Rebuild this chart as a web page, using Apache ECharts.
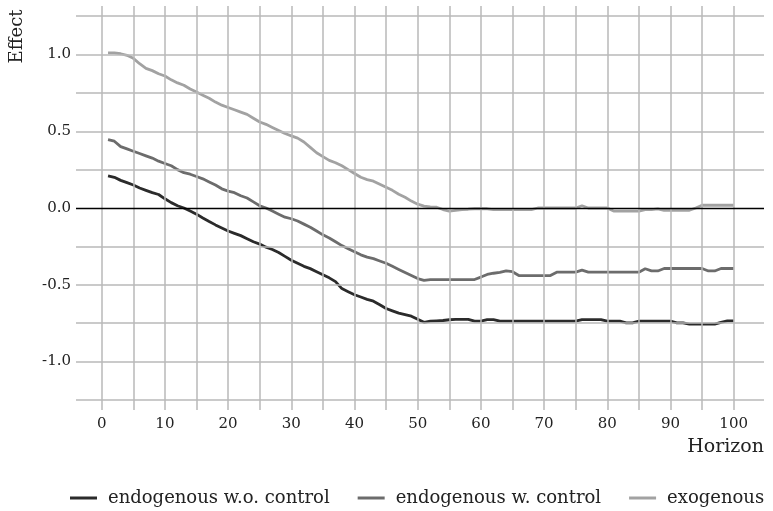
<!DOCTYPE html>
<html>
<head>
<meta charset="utf-8">
<script src="https://cdn.jsdelivr.net/npm/echarts@6/dist/echarts.min.js"></script>
<style>html,body{margin:0;padding:0;background:#fff;}#c{width:773px;height:511px;}</style>
</head>
<body>
<div id="c"></div>
<script>
const horizons = Array.from({length: 100}, (_, i) => i + 1);
const xTickLabels = [0, 10, 20, 30, 40, 50, 60, 70, 80, 90, 100];
const xGridValues = [0,5,10,15,20,25,30,35,40,45,50,55,60,65,70,75,80,85,90,95,100];
const yTickLabels = [-1.0, -0.5, 0.0, 0.5, 1.0];
const yGridValues = [-1.25,-1.0,-0.75,-0.5,-0.25,0.25,0.5,0.75,1.0,1.25];
const seriesNames = ['endogenous w.o. control', 'endogenous w. control', 'exogenous'];

const endoNoControl = [
 0.21,0.20,0.18,0.165,0.15,0.13,0.115,0.10,0.088,0.06,
 0.035,0.015,0.0,-0.02,-0.04,-0.065,-0.088,-0.11,-0.13,-0.15,
 -0.165,-0.18,-0.20,-0.22,-0.235,-0.255,-0.27,-0.29,-0.315,-0.34,
 -0.36,-0.38,-0.395,-0.415,-0.435,-0.455,-0.48,-0.525,-0.545,-0.565,
 -0.58,-0.595,-0.607,-0.63,-0.655,-0.67,-0.685,-0.695,-0.705,-0.725,
 -0.745,-0.737,-0.735,-0.733,-0.728,-0.726,-0.726,-0.726,-0.737,-0.737,
 -0.727,-0.727,-0.737,-0.737,-0.737,-0.737,-0.737,-0.737,-0.737,-0.737,
 -0.737,-0.737,-0.737,-0.737,-0.737,-0.727,-0.727,-0.727,-0.727,-0.737,
 -0.737,-0.737,-0.748,-0.748,-0.737,-0.737,-0.737,-0.737,-0.737,-0.737,
 -0.748,-0.748,-0.757,-0.757,-0.757,-0.757,-0.757,-0.745,-0.735,-0.735
];
const endoControl = [
 0.445,0.435,0.40,0.385,0.37,0.355,0.34,0.325,0.305,0.29,
 0.275,0.25,0.23,0.22,0.205,0.19,0.17,0.15,0.125,0.11,
 0.10,0.08,0.065,0.04,0.015,0.0,-0.02,-0.04,-0.06,-0.07,
 -0.085,-0.105,-0.125,-0.15,-0.175,-0.195,-0.22,-0.245,-0.265,-0.285,
 -0.305,-0.32,-0.33,-0.345,-0.36,-0.38,-0.40,-0.42,-0.44,-0.46,
 -0.472,-0.466,-0.466,-0.466,-0.466,-0.466,-0.466,-0.466,-0.466,-0.45,
 -0.433,-0.425,-0.42,-0.41,-0.415,-0.44,-0.44,-0.44,-0.44,-0.44,
 -0.44,-0.418,-0.418,-0.418,-0.418,-0.405,-0.418,-0.418,-0.418,-0.418,
 -0.418,-0.418,-0.418,-0.418,-0.418,-0.396,-0.41,-0.41,-0.394,-0.394,
 -0.394,-0.394,-0.394,-0.394,-0.394,-0.41,-0.41,-0.394,-0.394,-0.394
];
const exogenous = [
 1.01,1.01,1.005,0.995,0.975,0.94,0.91,0.895,0.875,0.86,
 0.835,0.815,0.80,0.775,0.755,0.735,0.715,0.69,0.67,0.655,
 0.64,0.625,0.61,0.585,0.56,0.545,0.525,0.505,0.485,0.47,
 0.455,0.43,0.395,0.36,0.335,0.31,0.295,0.275,0.25,0.225,
 0.20,0.185,0.175,0.155,0.135,0.115,0.09,0.07,0.045,0.025,
 0.012,0.008,0.005,-0.01,-0.02,-0.015,-0.01,-0.008,-0.005,-0.005,
 -0.005,-0.01,-0.01,-0.01,-0.01,-0.01,-0.01,-0.01,0.0,0.0,
 0.0,0.0,0.0,0.0,0.0,0.015,0.0,0.0,0.0,0.0,
 -0.02,-0.02,-0.02,-0.02,-0.02,-0.01,-0.01,-0.005,-0.015,-0.015,
 -0.015,-0.015,-0.015,0.0,0.018,0.018,0.018,0.018,0.018,0.018
];

const FONT = '"DejaVu Serif", "Liberation Serif", serif';
const gridColor = '#b9b9b9';
const colors = ['#2b2b2b', '#6c6c6c', '#a2a2a2'];

function pairs(vals) { return horizons.map((h, i) => [h, vals[i]]); }

const gridLines = [];
xGridValues.forEach(v => gridLines.push({xAxis: v}));
yGridValues.forEach(v => gridLines.push({yAxis: v}));
gridLines.push({yAxis: 0, lineStyle: {color: '#000', width: 1.4}});

const chart = echarts.init(document.getElementById('c'), null, {renderer: 'canvas'});
chart.setOption({
  animation: false,
  backgroundColor: '#fff',
  grid: {left: 76, right: 9, top: 6, bottom: 101, containLabel: false},
  xAxis: {
    type: 'value', min: -4.07, max: 104.8,
    axisLine: {show: false}, axisTick: {show: false}, splitLine: {show: false},
    axisLabel: {customValues: xTickLabels, color: '#222', fontFamily: FONT, fontSize: 15, margin: 7}
  },
  yAxis: {
    type: 'value', min: -1.316, max: 1.316,
    axisLine: {show: false}, axisTick: {show: false}, splitLine: {show: false},
    axisLabel: {customValues: yTickLabels, color: '#222', fontFamily: FONT, fontSize: 15, margin: 5,
      formatter: v => v.toFixed(1)}
  },
  legend: {
    data: seriesNames,
    left: 65, top: 484, width: 708,
    icon: 'rect', itemWidth: 27, itemHeight: 3, itemGap: 28,
    textStyle: {fontFamily: FONT, fontSize: 18, color: '#222', padding: [0, 0, 0, 6]}
  },
  graphic: [
    {type: 'text', x: 17.5, y: 36.5, rotation: Math.PI / 2,
      style: {text: 'Effect', font: '18px ' + FONT, fill: '#222', align: 'center', verticalAlign: 'middle'}},
    {type: 'text', x: 764, y: 447.5,
      style: {text: 'Horizon', font: '19px ' + FONT, fill: '#222', align: 'right', verticalAlign: 'middle'}}
  ],
  series: [
    {type: 'line', data: [], silent: true, z: 1,
      markLine: {silent: true, symbol: ['none', 'none'], label: {show: false},
        lineStyle: {color: gridColor, width: 1.5, type: 'solid'}, data: gridLines, animation: false}},
    {name: seriesNames[0], type: 'line', data: pairs(endoNoControl), showSymbol: false, z: 3,
      color: colors[0], lineStyle: {width: 2.8, color: colors[0]}},
    {name: seriesNames[1], type: 'line', data: pairs(endoControl), showSymbol: false, z: 3,
      color: colors[1], lineStyle: {width: 2.8, color: colors[1]}},
    {name: seriesNames[2], type: 'line', data: pairs(exogenous), showSymbol: false, z: 3,
      color: colors[2], lineStyle: {width: 2.8, color: colors[2]}}
  ]
});
</script>
</body>
</html>
